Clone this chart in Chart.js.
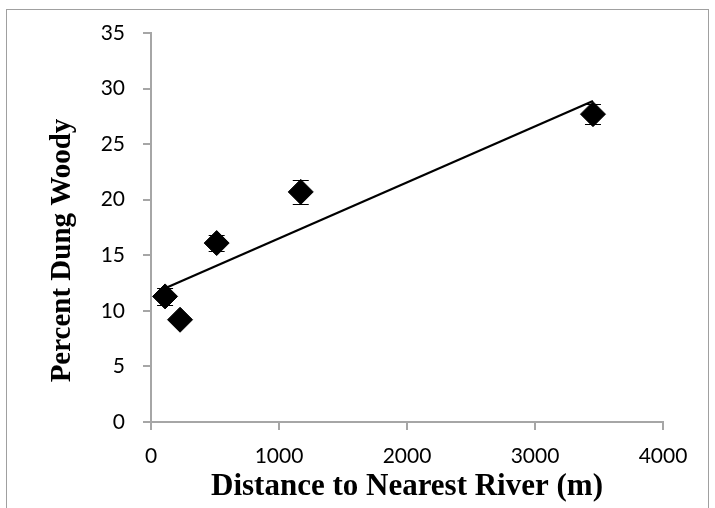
<!DOCTYPE html>
<html>
<head>
<meta charset="utf-8">
<script src="https://cdn.jsdelivr.net/npm/chart.js@4/dist/chart.umd.min.js"></script>
<style>
  html, body { margin: 0; padding: 0; background: #ffffff; }
  #wrap { width: 715px; height: 508px; position: relative; }
</style>
</head>
<body>
<div id="wrap"><canvas id="c" width="715" height="508"></canvas></div>
<script>
// ---- data ----
const distance = [110, 227, 513, 1170, 3453];          // Distance to nearest river (m)
const percentWoody = [11.3, 9.2, 16.1, 20.7, 27.7];    // Percent dung woody
const errorPlusMinus = [0.8, 0.3, 0.7, 1.1, 0.9];      // error bar half-lengths
const xTicks = [0, 1000, 2000, 3000, 4000];
const yTicks = [0, 5, 10, 15, 20, 25, 30, 35];
const xTitle = 'Distance to Nearest River (m)';
const yTitle = 'Percent Dung Woody';

// linear least-squares trendline from the data
function linearFit(xs, ys) {
  const n = xs.length;
  const mx = xs.reduce((a, b) => a + b, 0) / n;
  const my = ys.reduce((a, b) => a + b, 0) / n;
  let sxy = 0, sxx = 0;
  for (let i = 0; i < n; i++) { sxy += (xs[i] - mx) * (ys[i] - my); sxx += (xs[i] - mx) ** 2; }
  const slope = sxy / sxx;
  return { slope, intercept: my - slope * mx };
}
const fit = linearFit(distance, percentWoody);
const xMin = Math.min(...distance), xMax = Math.max(...distance);
const trendPoints = [
  { x: xMin, y: fit.intercept + fit.slope * xMin },
  { x: xMax, y: fit.intercept + fit.slope * xMax }
];
const points = distance.map((d, i) => ({ x: d, y: percentWoody[i] }));

const AXIS_GREY = '#A6A6A6';

const frame = {
  id: 'frame',
  beforeDraw(chart) {
    const ctx = chart.ctx;
    ctx.save();
    ctx.fillStyle = '#ffffff';
    ctx.fillRect(0, 0, chart.width, chart.height);
    ctx.strokeStyle = '#A0A0A0';
    ctx.lineWidth = 1;
    ctx.strokeRect(6.5, 9.5, 702, 530);
    ctx.restore();
  }
};

// vertical axis title, placed as in the reference (slightly below the plot centre)
const yAxisTitle = {
  id: 'yAxisTitle',
  afterDraw(chart) {
    const ctx = chart.ctx;
    const area = chart.chartArea;
    ctx.save();
    ctx.translate(63, (area.top + area.bottom) / 2 + 23);
    ctx.rotate(-Math.PI / 2);
    ctx.fillStyle = '#000000';
    ctx.font = 'bold 29px "Liberation Serif"';
    ctx.textAlign = 'center';
    ctx.textBaseline = 'middle';
    ctx.fillText(yTitle, 0, 0);
    ctx.restore();
  }
};

const errorBars = {
  id: 'errorBars',
  afterDatasetsDraw(chart) {
    const ctx = chart.ctx;
    const xs = chart.scales.x, ys = chart.scales.y;
    ctx.save();
    ctx.strokeStyle = '#000000';
    ctx.lineWidth = 1;
    for (let i = 0; i < distance.length; i++) {
      const px = xs.getPixelForValue(distance[i]);
      const top = ys.getPixelForValue(percentWoody[i] + errorPlusMinus[i]);
      const bot = ys.getPixelForValue(percentWoody[i] - errorPlusMinus[i]);
      const cap = 8;
      ctx.beginPath();
      ctx.moveTo(px, top); ctx.lineTo(px, bot);
      ctx.moveTo(px - cap, Math.round(top) + 0.5); ctx.lineTo(px + cap, Math.round(top) + 0.5);
      ctx.moveTo(px - cap, Math.round(bot) + 0.5); ctx.lineTo(px + cap, Math.round(bot) + 0.5);
      ctx.stroke();
    }
    ctx.restore();
  }
};

new Chart(document.getElementById('c'), {
  type: 'scatter',
  data: {
    datasets: [
      {
        label: 'Linear trend',
        data: trendPoints,
        showLine: true,
        borderColor: '#000000',
        borderWidth: 2.2,
        pointRadius: 0,
        fill: false
      },
      {
        label: 'Percent Dung Woody',
        data: points,
        pointStyle: 'rectRot',
        pointRadius: 12.5,
        pointHoverRadius: 12.5,
        backgroundColor: '#000000',
        borderColor: '#000000',
        borderWidth: 1
      }
    ]
  },
  options: {
    responsive: false,
    animation: false,
    events: [],
    layout: { padding: { left: 0, top: 33, right: 52, bottom: 0 } },
    plugins: { legend: { display: false }, tooltip: { enabled: false } },
    scales: {
      x: {
        type: 'linear',
        min: 0, max: 4000,
        afterBuildTicks(scale) { scale.ticks = xTicks.map(v => ({ value: v })); },
        afterFit(scale) { scale.height = 86; },
        border: { display: true, color: AXIS_GREY, width: 2 },
        grid: { display: true, drawOnChartArea: false, drawTicks: true, tickLength: 8, color: AXIS_GREY, lineWidth: 2 },
        ticks: { color: '#000000', padding: 14, font: { family: 'Lato', size: 21 }, maxRotation: 0,
                 callback: (v) => String(v) },
        title: {
          display: true, text: xTitle, color: '#000000',
          font: { family: 'Liberation Serif', size: 31, weight: 'bold' },
          padding: { top: 0, bottom: 2 }
        }
      },
      y: {
        type: 'linear',
        min: 0, max: 35,
        afterBuildTicks(scale) { scale.ticks = yTicks.map(v => ({ value: v })); },
        afterFit(scale) { scale.width = 151; },
        border: { display: true, color: AXIS_GREY, width: 2 },
        grid: { display: true, drawOnChartArea: false, drawTicks: true, tickLength: 8, color: AXIS_GREY, lineWidth: 2 },
        ticks: { color: '#000000', padding: 18, font: { family: 'Lato', size: 21 },
                 callback: (v) => String(v) },
        title: { display: false, text: yTitle }
      }
    }
  },
  plugins: [frame, errorBars, yAxisTitle]
});
</script>
</body>
</html>
